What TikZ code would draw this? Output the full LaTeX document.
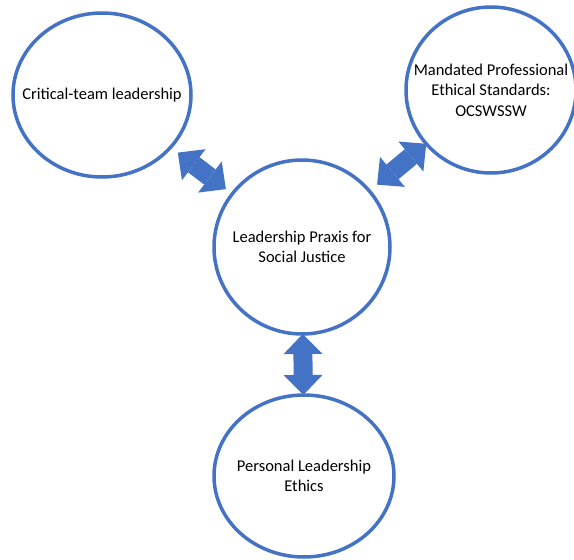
\documentclass[tikz,border=0pt]{standalone}
\usepackage{fontspec}
\setmainfont{Carlito}
\usepackage{tikz}
\usetikzlibrary{shapes.geometric,arrows.meta}
\definecolor{offblue}{HTML}{4472C4}

\begin{document}
\begin{tikzpicture}[x=1pt,y=-1pt,
	circ/.style={draw=offblue,line width=3.5pt,ellipse,inner sep=0pt,outer sep=0pt},
	circtext/.style={align=center,inner sep=0pt,font=\fontsize{16.5}{20.5}\selectfont},
	dblarrow/.style={draw=offblue,line width=19pt,
		{Triangle[width=39pt,length=20pt,line width=0pt]}-{Triangle[width=39pt,length=20pt,line width=0pt]}}]
	\useasboundingbox (0,0) rectangle (574,560);
	% the four circles
	\node [circ,minimum width=178pt,minimum height=164pt,
		label={[circtext]center:Critical-team leadership}] (crit) at (102,95) {};
	\node [circ,minimum width=170pt,minimum height=166pt,
		label={[circtext]center:Mandated Professional\\ Ethical Standards:\\ OCSWSSW}] (mand) at (491,90) {};
	\node [circ,minimum width=176pt,minimum height=174pt,
		label={[circtext]center:Leadership Praxis for\\ Social Justice}] (lead) at (302,247) {};
	\node [circ,minimum width=180pt,minimum height=162pt,
		label={[circtext]center:Personal Leadership\\ Ethics}] (pers) at (304,476) {};
	% block arrows
	\draw [dblarrow,shorten <=9pt,shorten >=8pt] (crit) -- (lead);
	\draw [dblarrow,shorten >=10pt] (mand) -- (lead);
	\draw [dblarrow] (lead) -- (pers);
\end{tikzpicture}
\end{document}
